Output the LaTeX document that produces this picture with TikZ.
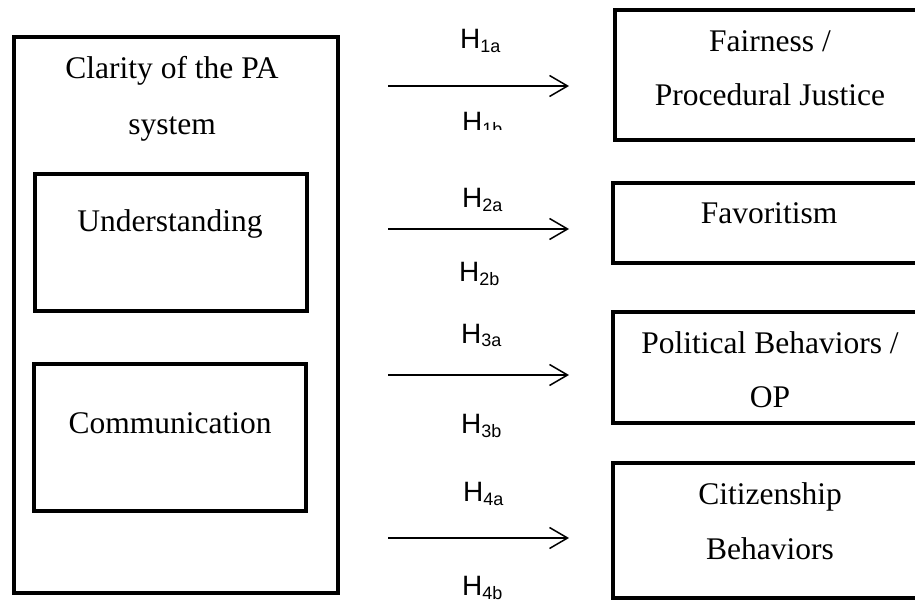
\documentclass[tikz,border=0pt]{standalone}
\usepackage{fontspec}
\setmainfont{Liberation Serif}
\newfontfamily\hfont{Liberation Sans}
\usetikzlibrary{arrows.meta}
\newcommand{\Hlab}[1]{{\hfont\fontsize{28}{28}\selectfont H\raisebox{-4pt}{\fontsize{18}{18}\selectfont #1}}}
\begin{document}
\begin{tikzpicture}[x=1pt,y=-1pt,
  box/.style={draw, line width=4pt, rectangle, inner sep=0pt},
  lbl/.style={font=\fontsize{31.5}{40}\selectfont, anchor=base, inner sep=0pt},
  hyp/.style={anchor=base west, inner sep=0pt},
  arr/.style={line width=1.5pt, -{Straight Barb[length=18pt,width=21pt,line width=1.5pt]}}
]
\useasboundingbox (0,0) rectangle (915,601);
\clip (0,0) rectangle (915,601);
% left boxes
\node[box, minimum width=324pt, minimum height=556pt] (outer) at (176,315) {};
\node[box, minimum width=272pt, minimum height=137pt] (und) at (171,242.5) {};
\node[box, minimum width=272pt, minimum height=147pt] (com) at (170,437.5) {};
\node[lbl] (cl1) at (172,79) {Clarity of the PA};
\node[lbl] (cl2) at (172,135) {system};
\node[lbl] (undt) at (170,232) {Understanding};
\node[lbl] (comt) at (170,433) {Communication};
% right boxes
\node[box, minimum width=320pt, minimum height=130pt] (fair) at (775,75) {};
\node[box, minimum width=322pt, minimum height=80pt] (fav) at (774,223) {};
\node[box, minimum width=322pt, minimum height=111pt] (pol) at (774,367.5) {};
\node[box, minimum width=322pt, minimum height=135pt] (cit) at (774,530.5) {};
\node[lbl] (fa1) at (770,52) {Fairness /};
\node[lbl] (fa2) at (770,106) {Procedural Justice};
\node[lbl] (fvt) at (769,224) {Favoritism};
\node[lbl] (po1) at (770,353) {Political Behaviors /};
\node[lbl] (po2) at (770,407) {OP};
\node[lbl] (ci1) at (770,504) {Citizenship};
\node[lbl] (ci2) at (770,559) {Behaviors};
% arrows
\coordinate (s1) at (388,86);  \coordinate (e1) at (569,86);
\coordinate (s2) at (388,229); \coordinate (e2) at (569,229);
\coordinate (s3) at (388,375); \coordinate (e3) at (569,375);
\coordinate (s4) at (388,538); \coordinate (e4) at (569,538);
\draw[arr] (s1) -- (e1);
\draw[arr] (s2) -- (e2);
\draw[arr] (s3) -- (e3);
\draw[arr] (s4) -- (e4);
% hypothesis labels
\node[hyp] (h1a) at (460,49) {\Hlab{1a}};
\begin{scope}
\clip (400,100) rectangle (560,130);
\node[hyp] (h1b) at (462,132) {\Hlab{1b}};
\end{scope}
\node[hyp] (h2a) at (462,208) {\Hlab{2a}};
\node[hyp] (h2b) at (459,282) {\Hlab{2b}};
\node[hyp] (h3a) at (461,343) {\Hlab{3a}};
\node[hyp] (h3b) at (461,433) {\Hlab{3b}};
\node[hyp] (h4a) at (463,501) {\Hlab{4a}};
\node[hyp] (h4b) at (462,595) {\Hlab{4b}};
\end{tikzpicture}
\end{document}
